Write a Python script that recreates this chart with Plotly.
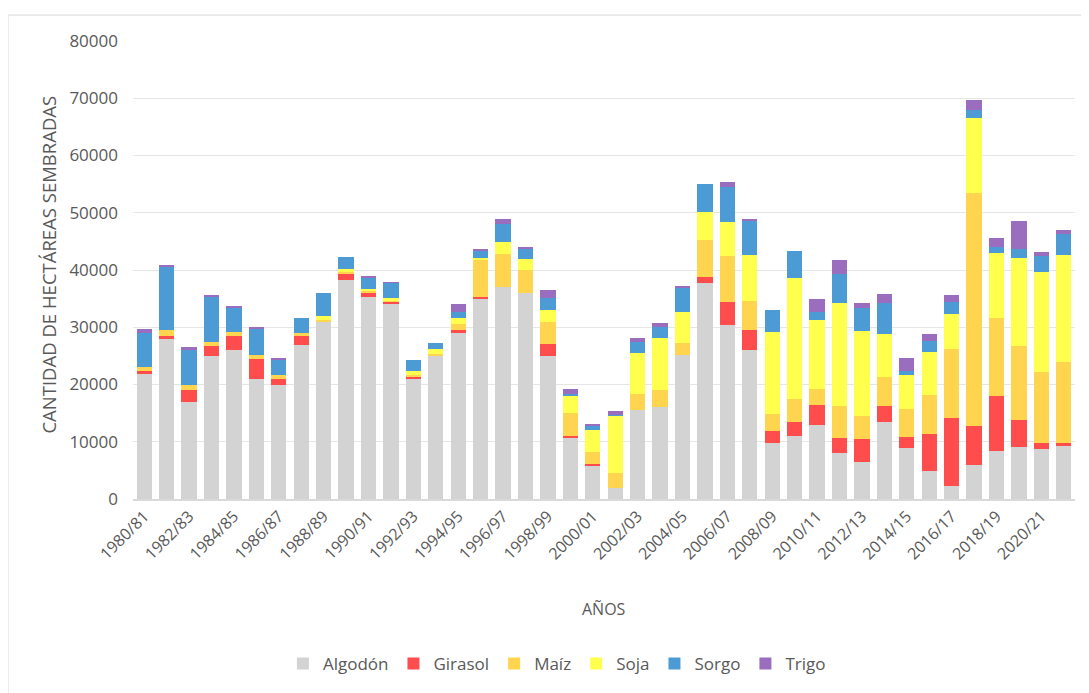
import plotly.graph_objects as go

# campañas 1980/81 ... 2021/22
campanas = [f"{y}/{str(y + 1)[-2:]}" for y in range(1980, 2022)]

algodon = [21900, 28000, 17000, 25000, 26000, 21000, 19900, 26900, 31000, 38300,
           35300, 34000, 20900, 25000, 29000, 35100, 37000, 36000, 25000, 10600,
           5700, 2000, 15500, 16100, 25200, 37700, 30400, 26100, 9800, 11000,
           13000, 8000, 6500, 13400, 8900, 4900, 2200, 5900, 8300, 9000,
           8800, 9300]
girasol = [450, 470, 2000, 1700, 2500, 3500, 1000, 1500, 0, 1050,
           800, 450, 350, 0, 450, 100, 0, 0, 2000, 400,
           400, 0, 0, 0, 0, 1000, 4000, 3500, 2000, 2400,
           3500, 2700, 4050, 2850, 1850, 6450, 11950, 6850, 9750, 4850,
           1000, 450]
maiz = [700, 1050, 900, 650, 700, 700, 800, 600, 300, 300,
        200, 200, 400, 300, 1150, 6500, 5850, 4000, 3950, 3950,
        2050, 2500, 2900, 2900, 2000, 6550, 8000, 5050, 3000, 4100,
        2800, 5500, 3950, 5050, 5050, 6800, 12000, 40700, 13500, 12950,
        12350, 14150]
soja = [0, 0, 0, 0, 0, 0, 0, 0, 600, 500,
        400, 500, 650, 850, 1000, 450, 2100, 1900, 2000, 3050,
        3950, 10050, 7150, 9100, 5500, 4950, 6050, 7900, 14300, 21050,
        11900, 18050, 14800, 7550, 5800, 7600, 6100, 13100, 11450, 15350,
        17550, 18800]
sorgo = [6000, 11150, 6050, 8050, 4200, 4650, 2700, 2600, 4000, 2050,
         2050, 2600, 1950, 1100, 1100, 1200, 3000, 1850, 2100, 300,
         600, 150, 1900, 1900, 4250, 4900, 6050, 6100, 4000, 4850,
         1550, 5000, 4050, 5400, 800, 1900, 2150, 1450, 1000, 1450,
         2750, 3550]
trigo = [700, 200, 650, 150, 150, 100, 100, 0, 0, 0,
         150, 100, 0, 0, 1400, 350, 950, 350, 1500, 950,
         450, 750, 700, 700, 100, 0, 950, 100, 0, 0,
         2100, 2550, 850, 1550, 2300, 1200, 1150, 1650, 1550, 4950,
         700, 800]

series = [
    ("Algodón", algodon, "#D3D3D3"),
    ("Girasol", girasol, "#FF4D4D"),
    ("Maíz", maiz, "#FFD54F"),
    ("Soja", soja, "#FFFF4D"),
    ("Sorgo", sorgo, "#4C9BD4"),
    ("Trigo", trigo, "#9B6DBE"),
]

font = "Open Sans"
gris = "#595959"

fig = go.Figure()
for nombre, valores, color in series:
    fig.add_trace(go.Bar(name=nombre, x=campanas, y=valores,
                         marker_color=color, marker_line_width=0))

# the page body has an 8px margin, so the figure is a bit smaller than the window
fig.update_layout(
    width=1081, height=685,
    barmode="stack", bargap=0.32,
    plot_bgcolor="white", paper_bgcolor="white",
    margin=dict(l=125, r=14, t=33, b=193),
    font=dict(family=font, size=16, color=gris),
    showlegend=True,
    legend=dict(orientation="h", x=0.45, xanchor="center", y=-0.357,
                yanchor="middle", font=dict(size=17, color=gris),
                traceorder="normal", itemwidth=30),
    xaxis=dict(type="category", tickvals=campanas[::2], tickangle=-45,
               showgrid=False, showline=True, linecolor="#D9D9D9",
               linewidth=1.5, ticks="", tickfont=dict(size=16, color=gris)),
    yaxis=dict(range=[0, 80000], dtick=10000, showgrid=True,
               gridcolor="#E6E6E6", gridwidth=1, zeroline=False,
               showline=False, ticks="", tickformat="d",
               ticklabelstandoff=14,
               tickfont=dict(size=17, color=gris)),
    annotations=[
        dict(text="AÑOS", xref="paper", yref="paper", x=0.5, y=-0.2397,
             xanchor="center", yanchor="middle",
             showarrow=False, font=dict(size=16, color=gris)),
        dict(text="CANTIDAD DE HECTÁREAS SEMBRADAS", xref="paper",
             yref="paper", x=-0.0902, y=0.512, textangle=-90,
             xanchor="center", yanchor="middle",
             showarrow=False, font=dict(size=18.5, color=gris)),
    ],
    shapes=[
        dict(type="rect", xref="paper", yref="paper", x0=-0.1327, x1=1.05,
             y0=-0.5, y1=1.0566, line=dict(color="#D9D9D9", width=1),
             layer="below"),
    ],
)

fig.write_html("out.html")
